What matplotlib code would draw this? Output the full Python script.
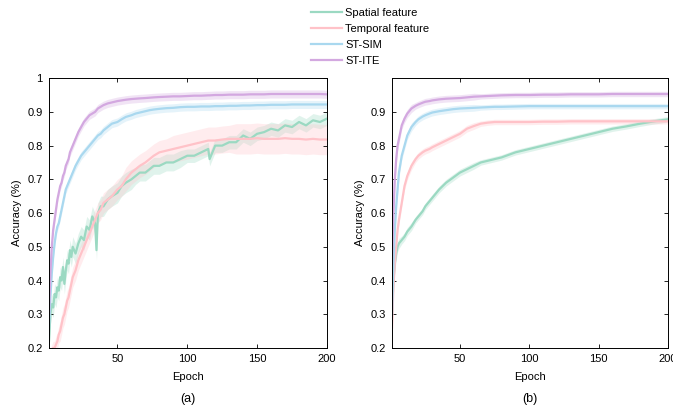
import matplotlib.pyplot as plt

plt.rcParams['font.family'] = ['Liberation Sans', 'DejaVu Sans']

# (a) epochs and curves
ep_a = [1, 2, 3, 4, 5, 6, 7, 8, 9, 10, 11, 12, 13, 14, 15, 16, 17, 18, 20, 22, 24, 26, 28, 30,
        32, 34, 35, 36, 38, 40, 43, 46, 50, 53, 56, 60, 63, 66, 70, 73, 76, 80, 85, 90, 95,
        100, 105, 110, 115, 116, 120, 125, 130, 135, 140, 145, 150, 155, 160, 165, 170, 175,
        180, 185, 190, 195, 200]
spatial_a = [0.22, 0.30, 0.33, 0.32, 0.36, 0.35, 0.38, 0.37, 0.41, 0.40, 0.44, 0.39, 0.43, 0.46,
             0.45, 0.49, 0.47, 0.50, 0.48, 0.51, 0.53, 0.52, 0.56, 0.55, 0.59, 0.57, 0.49, 0.60,
             0.62, 0.62, 0.64, 0.65, 0.66, 0.68, 0.69, 0.70, 0.71, 0.72, 0.72, 0.73, 0.74, 0.74,
             0.75, 0.75, 0.76, 0.77, 0.77, 0.78, 0.79, 0.76, 0.80, 0.80, 0.81, 0.81, 0.83, 0.82,
             0.835, 0.84, 0.85, 0.845, 0.86, 0.855, 0.87, 0.86, 0.875, 0.87, 0.88]
spatial_a_sd = [0.03, 0.03, 0.03, 0.03, 0.03, 0.03, 0.03, 0.03, 0.03, 0.03, 0.03, 0.03, 0.03,
                0.03, 0.03, 0.03, 0.03, 0.03, 0.03, 0.03, 0.03, 0.03, 0.03, 0.03, 0.03, 0.03,
                0.03, 0.03, 0.03, 0.03, 0.03, 0.03, 0.03, 0.03, 0.03, 0.03, 0.025, 0.025, 0.025,
                0.025, 0.025, 0.025, 0.025, 0.025, 0.025, 0.02, 0.02, 0.02, 0.02, 0.02, 0.02,
                0.02, 0.02, 0.02, 0.02, 0.02, 0.02, 0.02, 0.02, 0.02, 0.02, 0.02, 0.02, 0.02,
                0.02, 0.02, 0.02]
temporal_a = [0.17, 0.18, 0.19, 0.20, 0.20, 0.21, 0.22, 0.24, 0.25, 0.27, 0.29, 0.30, 0.32,
              0.34, 0.35, 0.37, 0.39, 0.41, 0.43, 0.46, 0.48, 0.50, 0.52, 0.54, 0.56, 0.58, 0.59,
              0.60, 0.61, 0.63, 0.64, 0.65, 0.67, 0.68, 0.70, 0.72, 0.73, 0.74, 0.75, 0.76, 0.77,
              0.78, 0.785, 0.79, 0.795, 0.80, 0.805, 0.81, 0.815, 0.815, 0.815, 0.818, 0.82,
              0.82, 0.82, 0.82, 0.822, 0.82, 0.82, 0.82, 0.822, 0.82, 0.82, 0.818, 0.82, 0.818,
              0.818]
temporal_a_sd = [0.02, 0.02, 0.02, 0.02, 0.02, 0.025, 0.025, 0.025, 0.03, 0.03, 0.03, 0.03,
                 0.03, 0.03, 0.03, 0.03, 0.03, 0.03, 0.03, 0.03, 0.03, 0.03, 0.03, 0.03, 0.03,
                 0.03, 0.03, 0.03, 0.03, 0.03, 0.03, 0.03, 0.03, 0.03, 0.035, 0.035, 0.035,
                 0.035, 0.035, 0.035, 0.035, 0.035, 0.035, 0.04, 0.04, 0.04, 0.04, 0.04, 0.04,
                 0.04, 0.04, 0.04, 0.04, 0.045, 0.045, 0.045, 0.045, 0.045, 0.045, 0.045, 0.045,
                 0.045, 0.045, 0.045, 0.045, 0.045, 0.045]
stsim_a = [0.26, 0.35, 0.42, 0.47, 0.51, 0.54, 0.56, 0.57, 0.59, 0.61, 0.63, 0.65, 0.67, 0.68,
           0.69, 0.70, 0.71, 0.72, 0.74, 0.755, 0.77, 0.78, 0.79, 0.80, 0.81, 0.82, 0.825, 0.83,
           0.835, 0.845, 0.855, 0.865, 0.87, 0.878, 0.885, 0.89, 0.895, 0.898, 0.902, 0.905,
           0.907, 0.909, 0.911, 0.912, 0.914, 0.915, 0.915, 0.916, 0.916, 0.916, 0.917, 0.917,
           0.918, 0.918, 0.919, 0.919, 0.92, 0.92, 0.921, 0.921, 0.921, 0.922, 0.922, 0.922,
           0.922, 0.922, 0.922]
stite_a = [0.30, 0.42, 0.50, 0.55, 0.58, 0.61, 0.64, 0.66, 0.68, 0.69, 0.71, 0.72, 0.74, 0.75,
           0.76, 0.78, 0.79, 0.80, 0.82, 0.84, 0.855, 0.87, 0.88, 0.89, 0.895, 0.90, 0.905,
           0.91, 0.915, 0.92, 0.925, 0.928, 0.932, 0.934, 0.936, 0.938, 0.939, 0.94, 0.941,
           0.942, 0.943, 0.944, 0.945, 0.946, 0.946, 0.947, 0.948, 0.948, 0.949, 0.949, 0.95,
           0.95, 0.951, 0.951, 0.951, 0.952, 0.952, 0.952, 0.953, 0.953, 0.953, 0.953, 0.953,
           0.953, 0.953, 0.953, 0.952]

# (b)
ep_b = [1, 2, 3, 4, 5, 6, 8, 10, 12, 15, 18, 20, 23, 25, 28, 30, 35, 40, 45, 50, 55, 60, 65,
        70, 75, 80, 90, 100, 110, 120, 130, 140, 150, 160, 170, 180, 190, 200]
spatial_b = [0.30, 0.40, 0.45, 0.48, 0.50, 0.51, 0.52, 0.53, 0.545, 0.56, 0.58, 0.59, 0.605,
             0.62, 0.635, 0.645, 0.67, 0.69, 0.705, 0.72, 0.73, 0.74, 0.75, 0.755, 0.76, 0.765,
             0.78, 0.79, 0.80, 0.81, 0.82, 0.83, 0.84, 0.85, 0.857, 0.865, 0.872, 0.878]
temporal_b = [0.26, 0.38, 0.45, 0.50, 0.55, 0.58, 0.63, 0.68, 0.71, 0.74, 0.76, 0.77, 0.78,
              0.785, 0.79, 0.795, 0.805, 0.815, 0.825, 0.835, 0.85, 0.858, 0.865, 0.868, 0.87,
              0.87, 0.87, 0.87, 0.871, 0.871, 0.872, 0.872, 0.872, 0.872, 0.872, 0.872, 0.872,
              0.872]
stsim_b = [0.30, 0.45, 0.55, 0.62, 0.67, 0.72, 0.77, 0.80, 0.83, 0.855, 0.87, 0.878, 0.886,
           0.89, 0.895, 0.898, 0.902, 0.905, 0.908, 0.91, 0.911, 0.912, 0.913, 0.914, 0.915,
           0.915, 0.916, 0.917, 0.917, 0.917, 0.917, 0.917, 0.917, 0.917, 0.917, 0.917, 0.917,
           0.917]
stite_b = [0.45, 0.60, 0.70, 0.76, 0.80, 0.82, 0.86, 0.88, 0.895, 0.91, 0.918, 0.922, 0.927,
           0.93, 0.932, 0.934, 0.937, 0.939, 0.94, 0.941, 0.943, 0.945, 0.946, 0.947, 0.948,
           0.949, 0.95, 0.95, 0.951, 0.951, 0.952, 0.952, 0.952, 0.953, 0.953, 0.953, 0.953,
           0.953]
sd_b = [0.02, 0.02, 0.02, 0.02, 0.015, 0.015, 0.012, 0.012, 0.012, 0.012, 0.01, 0.01, 0.01,
        0.01, 0.01, 0.01, 0.01, 0.01, 0.01, 0.01, 0.01, 0.01, 0.008, 0.008, 0.008, 0.008,
        0.008, 0.008, 0.008, 0.008, 0.008, 0.008, 0.008, 0.008, 0.008, 0.008, 0.008, 0.008]

names = ['Spatial feature', 'Temporal feature', 'ST-SIM', 'ST-ITE']
colors = ['#9bd9c2', '#ffc2c8', '#a9d8ef', '#d3a8e0']


def band(ax, x, y, sd, c, label=None):
    lo = [a - s for a, s in zip(y, sd)]
    hi = [a + s for a, s in zip(y, sd)]
    ax.fill_between(x, lo, hi, color=c, alpha=0.3, lw=0)
    ax.plot(x, y, color=c, lw=1.6, label=label)


fig = plt.figure(figsize=(6.73, 4.07), dpi=100)
ax1 = fig.add_axes([0.0728, 0.145, 0.413, 0.663])
ax2 = fig.add_axes([0.5825, 0.145, 0.41, 0.663])

small = [0.012] * len(ep_a)
band(ax1, ep_a, spatial_a, spatial_a_sd, colors[0], names[0])
band(ax1, ep_a, temporal_a, temporal_a_sd, colors[1], names[1])
band(ax1, ep_a, stsim_a, small, colors[2], names[2])
band(ax1, ep_a, stite_a, small, colors[3], names[3])

band(ax2, ep_b, spatial_b, sd_b, colors[0])
band(ax2, ep_b, temporal_b, sd_b, colors[1])
band(ax2, ep_b, stsim_b, sd_b, colors[2])
band(ax2, ep_b, stite_b, sd_b, colors[3])

for ax, lab in [(ax1, '(a)'), (ax2, '(b)')]:
    ax.set_xlim(1, 200)
    ax.set_xticks([50, 100, 150, 200])
    ax.set_xlabel('Epoch', fontsize=8, labelpad=5.5)
    ax.set_ylabel('Accuracy (%)', fontsize=8)
    ax.tick_params(direction='in', top=True, right=True, labelsize=8, length=3, width=0.6,
                   pad=4.5)
    for s in ax.spines.values():
        s.set_linewidth(0.7)
    ax.text(0.5, -0.19, lab, transform=ax.transAxes, ha='center', va='center', fontsize=9)

ax1.set_ylim(0.2, 1.0)
ax1.set_yticks([0.2, 0.3, 0.4, 0.5, 0.6, 0.7, 0.8, 0.9, 1.0])
ax1.set_yticklabels(['0.2', '0.3', '0.4', '0.5', '0.6', '0.7', '0.8', '0.9', '1'])
ax2.set_ylim(0.2, 1.0)
ax2.set_yticks([0.2, 0.3, 0.4, 0.5, 0.6, 0.7, 0.8, 0.9])

fig.legend(loc='upper center', bbox_to_anchor=(0.55, 1.005), frameon=False, fontsize=8,
           handlelength=2.8, handletextpad=0.3, labelspacing=0.55)

fig.savefig('out.png', dpi=100)
